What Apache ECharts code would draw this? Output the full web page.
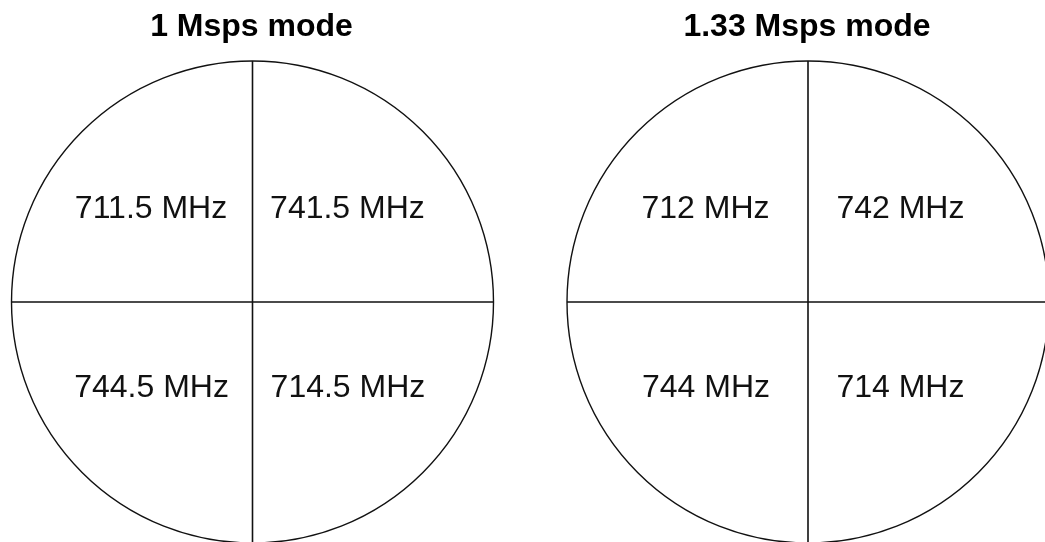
<!DOCTYPE html>
<html><head><meta charset="utf-8">
<script src="https://cdn.jsdelivr.net/npm/echarts@6/dist/echarts.min.js"></script>
<style>html,body{margin:0;padding:0;background:#fff}#c{width:1045px;height:542px}</style>
</head><body><div id="c"></div>
<script>
// ---- data ----
const panelTitles = ['1 Msps mode', '1.33 Msps mode'];
// quadrant angles, clockwise from top: top-left, top-right, bottom-left, bottom-right
const quadrantAngles = [315, 45, 225, 135];
const freqLabels1 = ['711.5 MHz', '741.5 MHz', '744.5 MHz', '714.5 MHz'];
const freqLabels2 = ['712 MHz', '742 MHz', '744 MHz', '714 MHz'];

// ---- layout ----
const centers = [[252.5, 302], [808, 302]];
const titleShift = -6;
const R = 241;
const labelRadius = 135;
const labelOffsets = [
  [[-6, 3], [-0.5, 3], [-5.5, -9.5], [0, -9.5]],
  [[-7, 3], [-3, 3], [-6.5, -9.5], [-3, -9.5]]
];
const lineColor = '#111';
const font = 'Liberation Sans, Arial, sans-serif';

const chart = echarts.init(document.getElementById('c'), null, {renderer: 'canvas'});
const labelSets = [freqLabels1, freqLabels2];

const option = {
  backgroundColor: '#fff',
  animation: false,
  title: panelTitles.map((t, i) => ({
    text: t, left: centers[i][0] + titleShift, top: 6, textAlign: 'center',
    textStyle: {fontFamily: font, fontWeight: 'bold', fontSize: 32, color: '#000'}
  })),
  polar: centers.map(c => ({center: c, radius: R})),
  angleAxis: centers.map((c, i) => ({
    polarIndex: i, type: 'value', min: 0, max: 360, interval: 90,
    startAngle: 90, clockwise: true,
    axisLine: {show: true, lineStyle: {color: lineColor, width: 1.4}},
    axisTick: {show: false}, axisLabel: {show: false},
    splitLine: {show: true, lineStyle: {color: lineColor, width: 1.6, type: 'solid'}},
    splitArea: {show: false}
  })),
  radiusAxis: centers.map((c, i) => ({
    polarIndex: i, type: 'value', min: 0, max: R,
    axisLine: {show: false}, axisTick: {show: false}, axisLabel: {show: false},
    splitLine: {show: false}, splitArea: {show: false}
  })),
  series: labelSets.map((labels, p) => ({
    type: 'scatter', coordinateSystem: 'polar', polarIndex: p,
    symbolSize: 1, itemStyle: {color: 'rgba(0,0,0,0)'}, silent: true,
    label: {
      show: true, position: 'inside', formatter: '{b}',
      fontFamily: font, fontSize: 32, color: '#111',
      textBorderWidth: 0, textBorderColor: 'transparent', opacity: 1
    },
    data: labels.map((t, i) => ({
      name: t, value: [labelRadius, quadrantAngles[i]],
      label: {offset: labelOffsets[p][i]}
    }))
  }))
};
chart.setOption(option);
</script>
</body></html>
